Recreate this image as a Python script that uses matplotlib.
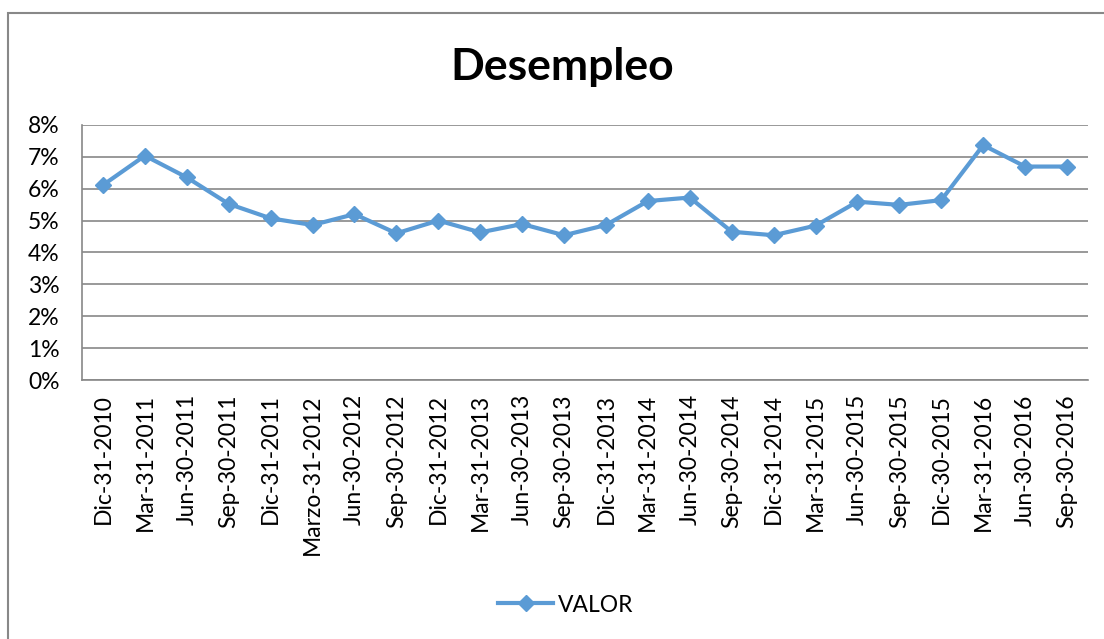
import matplotlib.pyplot as plt
from matplotlib.ticker import PercentFormatter
from matplotlib.patches import Rectangle

plt.rcParams['font.family'] = ['Lato', 'DejaVu Sans']

fechas = ['Dic-31-2010', 'Mar-31-2011', 'Jun-30-2011', 'Sep-30-2011', 'Dic-31-2011',
          'Marzo-31-2012', 'Jun-30-2012', 'Sep-30-2012', 'Dic-31-2012', 'Mar-31-2013',
          'Jun-30-2013', 'Sep-30-2013', 'Dic-31-2013', 'Mar-31-2014', 'Jun-30-2014',
          'Sep-30-2014', 'Dic-31-2014', 'Mar-31-2015', 'Jun-30-2015', 'Sep-30-2015',
          'Dic-30-2015', 'Mar-31-2016', 'Jun-30-2016', 'Sep-30-2016']
valor = [6.11, 7.03, 6.35, 5.52, 5.07, 4.86, 5.20, 4.60, 5.00, 4.63,
         4.89, 4.54, 4.86, 5.61, 5.72, 4.65, 4.54, 4.84, 5.59, 5.49,
         5.64, 7.36, 6.69, 6.69]
valor = [v / 100 for v in valor]

azul = '#5B9BD5'
gris = '#888888'

fig = plt.figure(figsize=(11.04, 6.39), dpi=100)
# marco del grafico
fig.patches.append(Rectangle((7.5 / 1104, -0.05), 1.1, 1 - 12.5 / 639 + 0.05,
                             transform=fig.transFigure, fill=False,
                             edgecolor=gris, linewidth=1.5))

ax = fig.add_axes([82 / 1104, 1 - 380.3 / 639, (1088 - 82) / 1104, (380.3 - 124.7) / 639])
x = range(len(fechas))
ax.plot(x, valor, color=azul, linewidth=3, marker='D', markersize=8.5, label='VALOR')

ax.set_ylim(0, 0.08)
ax.set_xlim(-0.5, len(fechas) - 0.5)
ax.set_yticks([i / 100 for i in range(9)])
ax.yaxis.set_major_formatter(PercentFormatter(1.0, decimals=0))
ax.set_xticks(list(x))
ax.set_xticklabels(fechas, rotation=90)
ax.tick_params(axis='both', length=0, labelsize=16.5, colors='black')
ax.tick_params(axis='x', pad=10)
ax.tick_params(axis='y', pad=16)
ax.grid(axis='y', color=gris, linewidth=1.2)
ax.set_axisbelow(True)
for s in ['top', 'right']:
    ax.spines[s].set_visible(False)
for s in ['left', 'bottom']:
    ax.spines[s].set_color(gris)
    ax.spines[s].set_linewidth(1.2)

fig.text(562 / 1104, 1 - 67 / 639, 'Desempleo', ha='center', va='center',
         fontsize=32, fontweight='bold')

ax.legend(loc='center', bbox_to_anchor=((566 - 82) / 1006, (380.3 - 605) / (380.3 - 124.7)),
          frameon=False, fontsize=16.5, handlelength=2.4, handletextpad=0.2)

fig.savefig('out.png', dpi=100)
